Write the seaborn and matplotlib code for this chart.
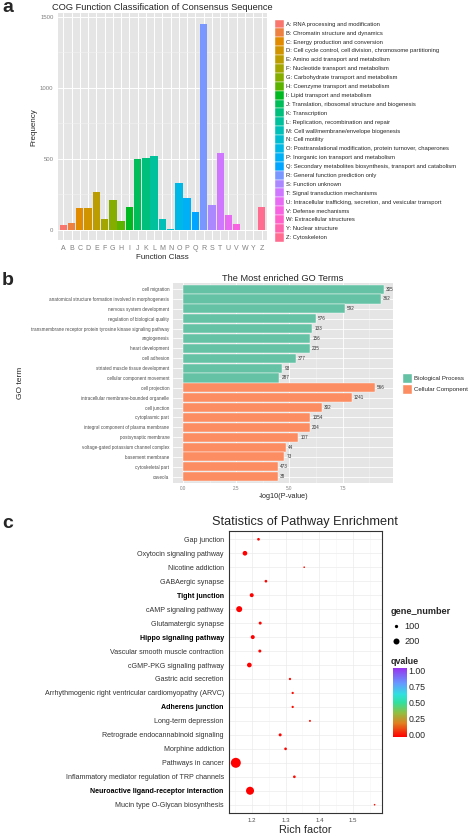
import numpy as np
import pandas as pd
import seaborn as sns
import matplotlib as mpl
import matplotlib.pyplot as plt
from matplotlib.patches import Patch
from matplotlib.lines import Line2D
from matplotlib.colors import LinearSegmentedColormap, Normalize

# ---- panel a data: COG classes ----
cog_class = ['A', 'B', 'C', 'D', 'E', 'F', 'G', 'H', 'I', 'J', 'K', 'L', 'M',
             'N', 'O', 'P', 'Q', 'R', 'S', 'T', 'U', 'V', 'W', 'Y', 'Z']
cog_desc = ['RNA processing and modification',
            'Chromatin structure and dynamics',
            'Energy production and conversion',
            'Cell cycle control, cell division, chromosome partitioning',
            'Amino acid transport and metabolism',
            'Nucleotide transport and metabolism',
            'Carbohydrate transport and metabolism',
            'Coenzyme transport and metabolism',
            'Lipid transport and metabolism',
            'Translation, ribosomal structure and biogenesis',
            'Transcription',
            'Replication, recombination and repair',
            'Cell wall/membrane/envelope biogenesis',
            'Cell motility',
            'Posttranslational modification, protein turnover, chaperones',
            'Inorganic ion transport and metabolism',
            'Secondary metabolites biosynthesis, transport and catabolism',
            'General function prediction only',
            'Function unknown',
            'Signal transduction mechanisms',
            'Intracellular trafficking, secretion, and vesicular transport',
            'Defense mechanisms',
            'Extracellular structures',
            'Nuclear structure',
            'Cytoskeleton']
cog_freq = [33, 49, 157, 157, 270, 77, 211, 66, 164, 498, 509, 523, 75,
            7, 329, 228, 129, 1452, 176, 542, 106, 45, 0, 0, 160]

# ---- panel b data: GO terms ----
go_term = ['cell migration',
           'anatomical structure formation involved in morphogenesis',
           'nervous system development',
           'regulation of biological quality',
           'transmembrane receptor protein tyrosine kinase signaling pathway',
           'angiogenesis',
           'heart development',
           'cell adhesion',
           'striated muscle tissue development',
           'cellular component movement',
           'cell projection',
           'intracellular membrane-bounded organelle',
           'cell junction',
           'cytoplasmic part',
           'integral component of plasma membrane',
           'postsynaptic membrane',
           'voltage-gated potassium channel complex',
           'basement membrane',
           'cytoskeletal part',
           'caveola']
go_logp = [9.44, 9.30, 7.61, 6.25, 6.08, 5.97, 5.97, 5.30, 4.67, 4.53,
           9.02, 7.94, 6.53, 5.97, 5.97, 5.42, 4.85, 4.75, 4.46, 4.46]
go_count = [305, 362, 592, 576, 133, 156, 235, 377, 93, 287,
            566, 1241, 302, 1354, 204, 107, 44, 73, 473, 38]
go_type = ['Biological Process', 'Biological Process', 'Biological Process',
           'Biological Process', 'Biological Process', 'Biological Process',
           'Biological Process', 'Biological Process', 'Biological Process',
           'Biological Process',
           'Cellular Component', 'Cellular Component', 'Cellular Component',
           'Cellular Component', 'Cellular Component', 'Cellular Component',
           'Cellular Component', 'Cellular Component', 'Cellular Component',
           'Cellular Component']

# ---- panel c data: KEGG pathways ----
kegg_path = ['Gap junction', 'Oxytocin signaling pathway', 'Nicotine addiction',
             'GABAergic synapse', 'Tight junction', 'cAMP signaling pathway',
             'Glutamatergic synapse', 'Hippo signaling pathway',
             'Vascular smooth muscle contraction', 'cGMP-PKG signaling pathway',
             'Gastric acid secretion',
             'Arrhythmogenic right ventricular cardiomyopathy (ARVC)',
             'Adherens junction', 'Long-term depression',
             'Retrograde endocannabinoid signaling', 'Morphine addiction',
             'Pathways in cancer',
             'Inflammatory mediator regulation of TRP channels',
             'Neuroactive ligand-receptor interaction',
             'Mucin type O-Glycan biosynthesis']
kegg_rich = [1.220, 1.180, 1.355, 1.242, 1.200, 1.163, 1.225, 1.203, 1.224, 1.193,
             1.313, 1.321, 1.321, 1.372, 1.284, 1.300, 1.153, 1.326, 1.195, 1.563]
kegg_genes = [86, 144, 68, 86, 120, 200, 93, 120, 93, 144,
              78, 78, 78, 73, 93, 86, 450, 86, 310, 68]
kegg_q = [0.01, 0.0, 0.02, 0.01, 0.0, 0.0, 0.01, 0.0, 0.01, 0.0,
          0.02, 0.02, 0.02, 0.03, 0.01, 0.01, 0.0, 0.02, 0.0, 0.03]
bold_paths = ['Tight junction', 'Hippo signaling pathway', 'Adherens junction',
              'Neuroactive ligand-receptor interaction']


def hue_pal(n, l=65, c=100):
    # ggplot2 default discrete colours (polar Luv)
    h = np.deg2rad(np.linspace(15, 375, n + 1)[:-1])
    u, v = c * np.cos(h), c * np.sin(h)
    Y = ((l + 16) / 116) ** 3
    up = u / (13 * l) + 0.19784
    vp = v / (13 * l) + 0.46834
    X = Y * 9 * up / (4 * vp)
    Z = Y * (12 - 3 * up - 20 * vp) / (4 * vp)
    M = np.array([[3.2406, -1.5372, -0.4986],
                  [-0.9689, 1.8758, 0.0415],
                  [0.0557, -0.2040, 1.0570]])
    rgb = M @ np.vstack([X, np.full(n, Y), Z])
    rgb = np.clip(rgb, 0, 1)
    rgb = np.where(rgb <= 0.0031308, 12.92 * rgb, 1.055 * rgb ** (1 / 2.4) - 0.055)
    return [tuple(x) for x in rgb.T]


sns.set_style('white')
plt.rcParams['font.family'] = ['Liberation Sans', 'DejaVu Sans']

W, H = 472, 836
fig = plt.figure(figsize=(W / 100, H / 100), dpi=100)


def box(x0, y0, x1, y1):
    return [x0 / W, 1 - y1 / H, (x1 - x0) / W, (y1 - y0) / H]


grey_bg = '#E5E5E5'
tick_grey = '#7F7F7F'

# ================= panel a =================
ax_a = fig.add_axes(box(58.3, 13.2, 266.5, 240.3))
pal_a = hue_pal(len(cog_class))
df_a = pd.DataFrame({'cls': cog_class, 'freq': cog_freq})
sns.barplot(data=df_a, x='cls', y='freq', hue='cls', palette=pal_a, width=0.9,
            saturation=1, legend=False, linewidth=0, ax=ax_a)
ax_a.set_facecolor(grey_bg)
ax_a.set_axisbelow(True)
ax_a.set_xlim(-0.6, len(cog_class) - 0.4)
ax_a.set_ylim(-72.6, 1524.6)
ax_a.set_yticks([0, 500, 1000, 1500])
ax_a.set_yticks([250, 750, 1250], minor=True)
ax_a.grid(True, which='major', color='white', linewidth=0.7)
ax_a.grid(True, which='minor', axis='y', color='#F2F2F2', linewidth=0.4)
for s in ax_a.spines.values():
    s.set_visible(False)
ax_a.tick_params(axis='both', which='major', length=2, width=0.5, color=tick_grey,
                 labelcolor=tick_grey, labelsize=4.3, pad=1.5)
ax_a.tick_params(axis='x', labelsize=5)
ax_a.tick_params(which='minor', length=0)
ax_a.set_xlabel('Function Class', fontsize=5.8, labelpad=1)
ax_a.set_ylabel('Frequency', fontsize=5.8, labelpad=2)
ax_a.set_title('COG Function Classification of Consensus Sequence', fontsize=6.7, pad=2.5)

handles_a = [Patch(facecolor=pal_a[i], edgecolor='white', linewidth=0.3,
                   label=f'{cog_class[i]}: {cog_desc[i]}') for i in range(len(cog_class))]
fig.legend(handles=handles_a, loc='upper left', bbox_to_anchor=(275 / W, 1 - 19.5 / H),
           fontsize=4.25, frameon=False, handlelength=1.52, handleheight=1.94,
           labelspacing=0.0, handletextpad=0.35, borderpad=0, borderaxespad=0)

# ================= panel b =================
ax_b = fig.add_axes(box(173, 283.2, 393.3, 482.6))
df_b = pd.DataFrame({'term': go_term, 'logp': go_logp, 'n': go_count, 'type': go_type})
go_colors = ['#66C2A5', '#FC8D62']
sns.barplot(data=df_b, y='term', x='logp', hue='type', palette=go_colors, dodge=False,
            width=0.92, saturation=1, legend=False, edgecolor='white', linewidth=0.3, ax=ax_b)
for i, (v, n) in enumerate(zip(go_logp, go_count)):
    ax_b.text(v + 0.1, i, str(n), va='center', ha='left', fontsize=3.3, color='#333333')
ax_b.set_facecolor(grey_bg)
ax_b.set_axisbelow(True)
ax_b.set_xlim(-0.47, 9.88)
ax_b.set_ylim(len(go_term) - 0.4, -0.6)
ax_b.set_xticks([0, 2.5, 5, 7.5])
ax_b.set_xticklabels(['0.0', '2.5', '5.0', '7.5'])
ax_b.set_xticks([1.25, 3.75, 6.25, 8.75], minor=True)
ax_b.grid(True, which='major', color='white', linewidth=0.6)
ax_b.grid(True, which='minor', axis='x', color='#F2F2F2', linewidth=0.4)
for s in ax_b.spines.values():
    s.set_visible(False)
ax_b.tick_params(axis='both', which='major', length=1.5, width=0.4, color=tick_grey,
                 labelsize=3.3, pad=1.2)
ax_b.tick_params(axis='y', labelcolor='#4D4D4D')
ax_b.tick_params(axis='x', labelcolor=tick_grey)
ax_b.tick_params(which='minor', length=0)
ax_b.set_xlabel('-log10(P-value)', fontsize=5.2, labelpad=1.5)
ax_b.set_ylabel('GO term', fontsize=6, labelpad=5)
ax_b.set_title('The Most enriched GO Terms', fontsize=6.7, pad=1.5)
handles_b = [Patch(facecolor=go_colors[0], label='Biological Process'),
             Patch(facecolor=go_colors[1], label='Cellular Component')]
fig.legend(handles=handles_b, loc='upper left', bbox_to_anchor=(401.7 / W, 1 - 373 / H),
           fontsize=4.4, frameon=False, handlelength=1.64, handleheight=2.14,
           labelspacing=0.11, handletextpad=0.4, borderpad=0, borderaxespad=0)

# ================= panel c =================
ax_c = fig.add_axes(box(228.7, 530.9, 381.7, 813.1))
q_cmap = LinearSegmentedColormap.from_list(
    'qv', [(0, '#FF0000'), (0.2, '#E08020'), (0.35, '#90C040'), (0.5, '#30E0A0'),
           (0.62, '#30E0E0'), (0.78, '#6699FF'), (1, '#9933EE')])
df_c = pd.DataFrame({'path': kegg_path, 'rich': kegg_rich, 'genes': kegg_genes, 'q': kegg_q})
size_norm = (60, 460)
size_rng = (0.36, 52.8)
sns.scatterplot(data=df_c, x='rich', y='path', size='genes', sizes=size_rng,
                size_norm=size_norm, hue='q', palette=q_cmap, hue_norm=(0, 1),
                legend=False, edgecolor='none', ax=ax_c)
ax_c.set_facecolor('white')
ax_c.set_axisbelow(True)
ax_c.set_xlim(1.132, 1.584)
ax_c.set_ylim(len(kegg_path) - 0.4, -0.6)
ax_c.set_xticks([1.2, 1.3, 1.4, 1.5])
ax_c.set_xticks([1.15, 1.25, 1.35, 1.45, 1.55], minor=True)
ax_c.grid(True, which='major', color='#EBEBEB', linewidth=0.5)
ax_c.grid(True, which='minor', axis='x', color='#F5F5F5', linewidth=0.4)
for s in ax_c.spines.values():
    s.set_color('#333333')
    s.set_linewidth(0.8)
ax_c.tick_params(axis='both', which='major', length=2, width=0.5, color='#333333', pad=1.5)
ax_c.tick_params(axis='y', labelsize=5.1, labelcolor='#333333')
ax_c.tick_params(axis='x', labelsize=4.4, labelcolor='#4D4D4D')
ax_c.tick_params(which='minor', length=0)
for lab in ax_c.get_yticklabels():
    if lab.get_text() in bold_paths:
        lab.set_fontweight('bold')
        lab.set_color('black')
ax_c.set_xlabel('Rich factor', fontsize=7.8, labelpad=1.5)
ax_c.set_ylabel('')
ax_c.set_title('Statistics of Pathway Enrichment', fontsize=9.2, pad=4)


def size_of(n):
    return size_rng[0] + (n - size_norm[0]) / (size_norm[1] - size_norm[0]) * (size_rng[1] - size_rng[0])


handles_c = [Line2D([], [], marker='o', linestyle='', color='black', markeredgewidth=0,
                    markersize=np.sqrt(size_of(n)), label=str(n)) for n in [100, 200]]
fig.legend(handles=handles_c, loc='upper left', bbox_to_anchor=(391 / W, 1 - 607 / H),
           title='gene_number', title_fontproperties={'weight': 'bold', 'size': 6.6},
           alignment='left', fontsize=6.6, frameon=False, handlelength=1.0,
           labelspacing=0.65, handletextpad=0.5, borderpad=0, borderaxespad=0)

cax = fig.add_axes(box(393, 668, 406.5, 737))
cb = mpl.colorbar.ColorbarBase(cax, cmap=q_cmap, norm=Normalize(-0.035, 1.035))
cb.outline.set_visible(False)
cb.set_ticks([0, 0.25, 0.5, 0.75, 1])
cb.set_ticklabels(['0.00', '0.25', '0.50', '0.75', '1.00'])
cax.tick_params(labelsize=6.3, length=0, pad=1.5)
fig.text(391 / W, 1 - 664.5 / H, 'qvalue', fontsize=6.4, fontweight='bold', va='baseline')

# panel letters
fig.text(2 / W, 1 - 12 / H, 'a', fontsize=14, fontweight='bold', va='baseline')
fig.text(2 / W, 1 - 285 / H, 'b', fontsize=14, fontweight='bold', va='baseline')
fig.text(2 / W, 1 - 528 / H, 'c', fontsize=14, fontweight='bold', va='baseline')

fig.savefig('out.png', dpi=100)
